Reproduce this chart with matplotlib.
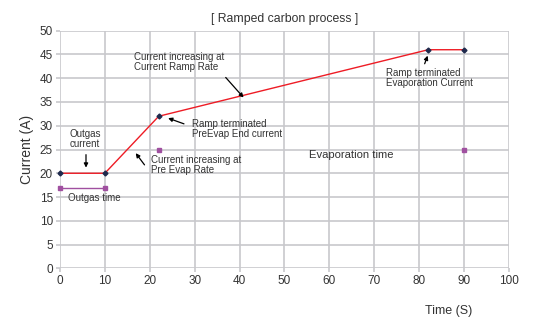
import matplotlib
matplotlib.use("Agg")
import matplotlib.pyplot as plt

plt.rcParams['font.family'] = ['Liberation Sans', 'DejaVu Sans']

# current profile
time_s = [0, 10, 22, 82, 90]
current_a = [20, 20, 32, 46, 46]

# outgas time bar
outgas_t = [0, 10]
outgas_y = [17, 17]

# evaporation time markers
evap_t = [22, 90]
evap_y = [25, 25]

x_ticks = list(range(0, 101, 10))
y_ticks = list(range(0, 51, 5))

txt = '#333333'
grid_c = '#c8c8cc'

fig = plt.figure(figsize=(5.5, 3.2), dpi=100)
ax = fig.add_axes([0.109, 0.1616, 0.8165, 0.7424])

ax.plot(time_s, current_a, color='#ee1c25', lw=1.0, zorder=3, clip_on=False)
ax.plot(time_s, current_a, ls='none', marker='D', ms=2.5, color='#1f2a4d', zorder=4, clip_on=False)
ax.plot(outgas_t, outgas_y, color='#a050a0', lw=1.0, marker='s', ms=3.5, zorder=3, clip_on=False)
ax.plot(evap_t, evap_y, ls='none', marker='s', ms=3.5, color='#a050a0', zorder=3, clip_on=False)

ax.set_xlim(0, 100)
ax.set_ylim(0, 50)
ax.set_xticks(x_ticks)
ax.set_yticks(y_ticks)
ax.grid(True, color=grid_c, lw=1.2)
ax.set_axisbelow(True)
for s in ax.spines.values():
    s.set_visible(False)
ax.tick_params(colors=grid_c, labelcolor=txt, labelsize=8.5, length=3, width=1.2, pad=2)

ax.set_title('[ Ramped carbon process ]', fontsize=8.8, color=txt, pad=6)
ax.set_ylabel('Current (A)', fontsize=10, color=txt, labelpad=4)
ax.set_xlabel('Time (S)', fontsize=9, color=txt)
ax.xaxis.set_label_coords(0.866, -0.155)

fs = 7
arrow = dict(arrowstyle='-|>', color='black', lw=0.9, mutation_scale=6)

ax.annotate('', xy=(5.8, 20.6), xytext=(5.8, 24.5), arrowprops=arrow)
ax.text(5.6, 27.2, 'Outgas\ncurrent', fontsize=fs, color=txt, ha='center', va='center', linespacing=1.0)
ax.text(1.8, 14.7, 'Outgas time', fontsize=fs, color=txt, ha='left', va='center')

ax.annotate('', xy=(16.5, 24.7), xytext=(19.2, 21.3), arrowprops=arrow)
ax.text(20.3, 21.8, 'Current increasing at\nPre Evap Rate', fontsize=fs, color=txt,
        ha='left', va='center', linespacing=1.0)

ax.annotate('', xy=(23.5, 31.8), xytext=(28.2, 30.2), arrowprops=arrow)
ax.text(29.5, 29.4, 'Ramp terminated\nPreEvap End current', fontsize=fs, color=txt,
        ha='left', va='center', linespacing=1.0)

ax.annotate('', xy=(41.3, 35.5), xytext=(36.5, 40.6), arrowprops=arrow)
ax.text(16.6, 43.4, 'Current increasing at\nCurrent Ramp Rate', fontsize=fs, color=txt,
        ha='left', va='center', linespacing=1.0)

ax.annotate('', xy=(82.1, 45.3), xytext=(81.0, 42.5), arrowprops=arrow)
ax.text(72.5, 40.0, 'Ramp terminated\nEvaporation Current', fontsize=fs, color=txt,
        ha='left', va='center', linespacing=1.0)

ax.text(55.5, 23.9, 'Evaporation time', fontsize=8.1, color=txt, ha='left', va='center')

fig.savefig('out.png', dpi=100)
